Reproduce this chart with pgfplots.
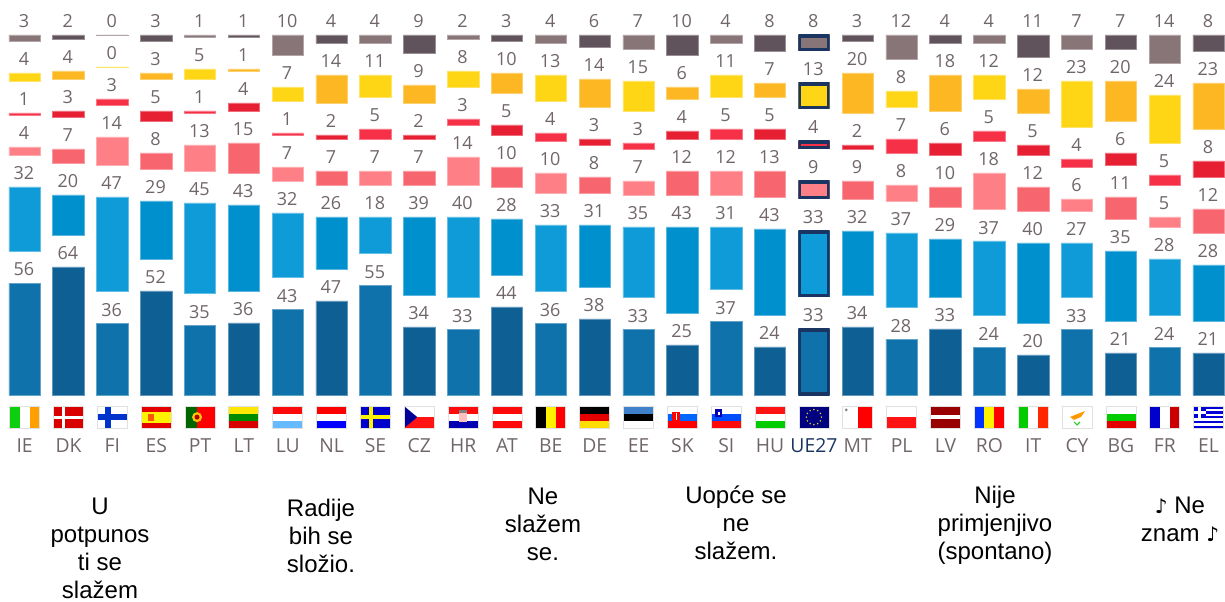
\documentclass[border=0pt]{standalone}
\usepackage{fontspec}
\setmainfont{Open Sans}
\newfontfamily\legfont{Liberation Sans}
\newfontfamily\symfont{DejaVu Sans}
\usepackage{pgfplots}
\usepackage{pgfplotstable}
\pgfplotsset{compat=1.18}

\definecolor{txt}{RGB}{112,102,104}
\definecolor{navy}{RGB}{27,53,98}
% light palette (even columns)
\definecolor{aDark}{HTML}{1072AB}
\definecolor{aBlue}{HTML}{0F9BD7}
\definecolor{aPink}{HTML}{FF7F87}
\definecolor{aRed}{HTML}{F63046}
\definecolor{aYel}{HTML}{FFD616}
\definecolor{aGrey}{HTML}{887577}
% dark palette (odd columns)
\definecolor{bDark}{HTML}{0E5F93}
\definecolor{bBlue}{HTML}{0090CD}
\definecolor{bPink}{HTML}{F7656F}
\definecolor{bRed}{HTML}{E61F33}
\definecolor{bYel}{HTML}{FCB722}
\definecolor{bGrey}{HTML}{61535B}

% 0.01 stands for the 0 of FI: pgfplots drops a bar of no height, and the label prints 0
\pgfplotstableread{
x  gap dark blue pink red yel  grey
0  16  56   32   4    1   4    3
2  16  36   47   14   3   0.01 0.01
4  16  35   45   13   1   5    1
6  16  43   32   7    1   7    10
8  16  55   18   7    5   11   4
10 16  33   40   14   3   8    2
12 16  36   33   10   4   13   4
14 16  33   35   7    3   15   7
16 16  37   31   12   5   11   4
20 16  28   37   8    7   8    12
22 16  24   37   18   5   12   4
24 16  33   27   6    4   23   7
26 16  24   28   5    5   24   14
}\evenT
\pgfplotstableread{
x  gap dark blue pink red yel grey
1  16  64   20   7    3   4   2
3  16  52   29   8    5   3   3
5  16  36   43   15   4   1   1
7  16  47   26   7    2   14  4
9  16  34   39   7    2   9   9
11 16  44   28   10   5   10  3
13 16  38   31   8    3   14  6
15 16  25   43   12   4   6   10
17 16  24   43   13   5   7   8
19 16  34   32   9    2   20  3
21 16  33   29   10   6   18  4
23 16  20   40   12   5   12  11
25 16  21   35   11   6   20  7
27 16  21   28   12   8   23  8
}\oddT
\pgfplotstableread{
x  gap dark blue pink red yel grey
18 16  33   33   9    4   13  8
}\ueT

% flags, 30 x 21.6 px
\newcommand\hthree[3]{\fill[#1] (0,14.4) rectangle (30,21.6);\fill[#2] (0,7.2) rectangle (30,14.4);\fill[#3] (0,0) rectangle (30,7.2);}
\newcommand\vthree[3]{\fill[#1] (0,0) rectangle (10,21.6);\fill[#2] (10,0) rectangle (20,21.6);\fill[#3] (20,0) rectangle (30,21.6);}
\newcommand\flagbox[1]{\tikz[x=0.75pt,y=0.75pt,baseline=(current bounding box.south)]{\path (0,0) rectangle (30,21.6);#1\draw[black!12,line width=0.6pt] (0,0) rectangle (30,21.6);}}
\DeclareRobustCommand\fIE{\flagbox{\vthree{green!80!black!95}{white}{orange!75!yellow}}}
\DeclareRobustCommand\fDK{\flagbox{\fill[red!85!black] (0,0) rectangle (30,21.6);\fill[white] (9,0) rectangle (12,21.6);\fill[white] (0,9.3) rectangle (30,12.3);}}
\DeclareRobustCommand\fFI{\flagbox{\fill[blue!75!cyan!80!black] (8,0) rectangle (14,21.6);\fill[blue!75!cyan!80!black] (0,8) rectangle (30,14);}}
\DeclareRobustCommand\fES{\flagbox{\fill[red!90!black] (0,0) rectangle (30,21.6);\fill[yellow] (0,5.4) rectangle (30,16.2);\fill[orange!70!red] (7,7) rectangle (13,14);}}
\DeclareRobustCommand\fPT{\flagbox{\fill[red] (0,0) rectangle (30,21.6);\fill[green!40!black] (0,0) rectangle (12,21.6);\fill[yellow!60!orange] (12,10.8) circle (5);\fill[red!70!black] (12,10.8) circle (2.5);}}
\DeclareRobustCommand\fLT{\flagbox{\hthree{yellow!90!orange}{green!55!black}{red!85!black}}}
\DeclareRobustCommand\fLU{\flagbox{\hthree{red!95!pink}{white}{blue!45!cyan!60!white}}}
\DeclareRobustCommand\fNL{\flagbox{\hthree{red}{white}{blue}}}
\DeclareRobustCommand\fSE{\flagbox{\fill[blue!80!black] (0,0) rectangle (30,21.6);\fill[yellow] (9,0) rectangle (13,21.6);\fill[yellow] (0,8.8) rectangle (30,12.8);}}
\DeclareRobustCommand\fCZ{\flagbox{\fill[red!90!pink] (0,0) rectangle (30,10.8);\fill[blue!60!black] (0,0) -- (13,10.8) -- (0,21.6) -- cycle;}}
\DeclareRobustCommand\fHR{\flagbox{\hthree{red!95!pink}{white}{blue!70!black}\fill[pink] (11,6) rectangle (19,15);\fill[gray] (11,15) rectangle (19,18);}}
\DeclareRobustCommand\fAT{\flagbox{\hthree{red!95!pink}{white}{red!95!pink}}}
\DeclareRobustCommand\fBE{\flagbox{\vthree{black}{yellow}{red}}}
\DeclareRobustCommand\fDE{\flagbox{\hthree{black}{red!90!black}{yellow!80!orange}}}
\DeclareRobustCommand\fEE{\flagbox{\hthree{cyan!50!blue!80!white}{black}{white}}}
\DeclareRobustCommand\fSK{\flagbox{\hthree{white}{blue!60!cyan}{red}\fill[red] (5,6) rectangle (13,16);\fill[white] (8.3,8) rectangle (9.7,15);}}
\DeclareRobustCommand\fSI{\flagbox{\hthree{white}{blue!70!cyan}{red!95!pink}\fill[blue!70!black] (4,11) rectangle (11,19);\fill[white] (6.5,13) rectangle (8.5,16);}}
\DeclareRobustCommand\fHU{\flagbox{\hthree{red!90!pink}{white}{green!80!black}}}
\DeclareRobustCommand\fUE{\flagbox{\fill[blue!50!black] (0,0) rectangle (30,21.6);\foreach \a in {0,30,...,330}{\fill[yellow!80!black] (15,10.8)+(\a:7.5) circle (0.9);}}}
\DeclareRobustCommand\fMT{\flagbox{\fill[red] (15,0) rectangle (30,21.6);\fill[gray] (3.5,18) circle (1.5);}}
\DeclareRobustCommand\fPL{\flagbox{\fill[red!90!pink] (0,0) rectangle (30,10.8);}}
\DeclareRobustCommand\fLV{\flagbox{\fill[red!60!black] (0,0) rectangle (30,8.6);\fill[red!60!black] (0,13) rectangle (30,21.6);}}
\DeclareRobustCommand\fRO{\flagbox{\vthree{blue!80!cyan}{yellow}{red}}}
\DeclareRobustCommand\fIT{\flagbox{\vthree{green!80!black}{white}{red!70!orange}}}
\DeclareRobustCommand\fCY{\flagbox{\fill[orange!80!yellow] (8,11) -- (23,17) -- (19,11) -- (12,8) -- cycle;\draw[green!60!gray,line width=0.8pt] (12,6) -- (15,3) -- (18,6);}}
\DeclareRobustCommand\fBG{\flagbox{\hthree{white}{green!80!black}{red!90!black}}}
\DeclareRobustCommand\fFR{\flagbox{\vthree{blue!80!black}{white}{red!80!black}}}
\DeclareRobustCommand\fEL{\flagbox{\fill[blue!85!black] (0,0) rectangle (30,21.6);\foreach \y in {2.4,7.2,12,16.8}{\fill[white] (0,\y) rectangle (30,\y+2.4);}\fill[blue!85!black] (0,9.6) rectangle (12,21.6);\fill[white] (4.6,9.6) rectangle (7.4,21.6);\fill[white] (0,14.4) rectangle (12,16.8);}}

\pgfplotsset{
  base/.style={
    at={(0pt,-296.25pt)}, anchor=south west,
    scale only axis, width=918.75pt, height=296.25pt,
    xmin=-0.562, xmax=27.374, ymin=0, ymax=197.5,
    ybar stacked, bar width=23.55pt, clip=false,
    axis line style={draw=none}, tick style={draw=none},
    ytick=\empty, xtick=\empty,
    /pgf/number format/assume math mode=true,
    /pgf/number format/fixed, /pgf/number format/precision=0,
    % stacked labels sit mid-segment: lift them by half the segment (1 unit = 1.5pt)
    visualization depends on=rawy \as \segv,
    every node near coord/.append style={anchor=base, font=\fontsize{13.5}{14}\selectfont,
      text=txt, inner sep=0pt, yshift={\segv*0.75pt+5.25pt}, xshift=-0.5pt},
  },
  ueframe/.style={draw=none, path picture={\path[path picture=,draw=navy,fill=none,line width=4.5pt] (path picture bounding box.south west) rectangle (path picture bounding box.north east);}},
}
% one group of columns: table, six colours, style; gaps leave room for the labels
\newcommand\colgroup[8]{%
  \addplot[fill=#2, draw=#2!65!white, line width=0.5pt, nodes near coords, #8] table[x=x,y=dark] {#1};
  \addplot[draw=none, fill=none] table[x=x,y=gap] {#1};
  \addplot[fill=#3, draw=#3!65!white, line width=0.5pt, nodes near coords, #8] table[x=x,y=blue] {#1};
  \addplot[draw=none, fill=none] table[x=x,y=gap] {#1};
  \addplot[fill=#4, draw=#4!65!white, line width=0.5pt, nodes near coords, #8] table[x=x,y=pink] {#1};
  \addplot[draw=none, fill=none] table[x=x,y=gap] {#1};
  \addplot[fill=#5, draw=#5!65!white, line width=0.5pt, nodes near coords, #8] table[x=x,y=red] {#1};
  \addplot[draw=none, fill=none] table[x=x,y=gap] {#1};
  \addplot[fill=#6, draw=#6!65!white, line width=0.5pt, nodes near coords, #8] table[x=x,y=yel] {#1};
  \addplot[draw=none, fill=none] table[x=x,y=gap] {#1};
  \addplot[fill=#7, draw=#7!65!white, line width=0.5pt, nodes near coords, #8] table[x=x,y=grey] {#1};
}

\begin{document}
\begin{tikzpicture}
\useasboundingbox (0,0) rectangle (918.75pt,-451.5pt);

\begin{axis}[base,
  xtick={0,...,27},
  xticklabels={
    {\fIE\\[2pt]IE},{\fDK\\[2pt]DK},{\fFI\\[2pt]FI},{\fES\\[2pt]ES},{\fPT\\[2pt]PT},{\fLT\\[2pt]LT},{\fLU\\[2pt]LU},
    {\fNL\\[2pt]NL},{\fSE\\[2pt]SE},{\fCZ\\[2pt]CZ},{\fHR\\[2pt]HR},{\fAT\\[2pt]AT},{\fBE\\[2pt]BE},{\fDE\\[2pt]DE},
    {\fEE\\[2pt]EE},{\fSK\\[2pt]SK},{\fSI\\[2pt]SI},{\fHU\\[2pt]HU},{\fUE\\[2pt]\textcolor{navy}{UE27}},{\fMT\\[2pt]MT},{\fPL\\[2pt]PL},
    {\fLV\\[2pt]LV},{\fRO\\[2pt]RO},{\fIT\\[2pt]IT},{\fCY\\[2pt]CY},{\fBG\\[2pt]BG},{\fFR\\[2pt]FR},{\fEL\\[2pt]EL}},
  xticklabel style={align=center, inner sep=0pt, anchor=north, yshift=-8pt,
    font=\fontsize{14.5}{16}\selectfont, text=txt},
]
\colgroup{\evenT}{aDark}{aBlue}{aPink}{aRed}{aYel}{aGrey}{}
\end{axis}

\begin{axis}[base]
\colgroup{\oddT}{bDark}{bBlue}{bPink}{bRed}{bYel}{bGrey}{}
\end{axis}

% EU average, inner navy frame
\begin{axis}[base]
\colgroup{\ueT}{aDark}{aBlue}{aPink}{aRed}{aYel}{aGrey}{ueframe}
\end{axis}

% legend entries, no keys in the reference; anchor is the baseline of the last line
\begin{scope}[x=0.75pt,y=-0.75pt,every node/.style={align=center, text=black, inner sep=0pt,
    font=\legfont\fontsize{18}{21}\selectfont}]
\node[anchor=base] at (100,598) {U\\potpunos\\ti se\\slažem};
\node[anchor=base] at (321,572) {Radije\\bih se\\složio.};
\node[anchor=base] at (543,560) {Ne\\slažem\\se.};
\node[anchor=base] at (736,559) {Uopće se\\ne\\slažem.};
\node[anchor=base] at (995,559) {Nije\\primjenjivo\\(spontano)};
\node[anchor=base] at (1180,541) {{\symfont\fontsize{15}{21}\selectfont♪} Ne\\znam {\symfont\fontsize{15}{21}\selectfont♪}};
\end{scope}
\end{tikzpicture}
\end{document}
